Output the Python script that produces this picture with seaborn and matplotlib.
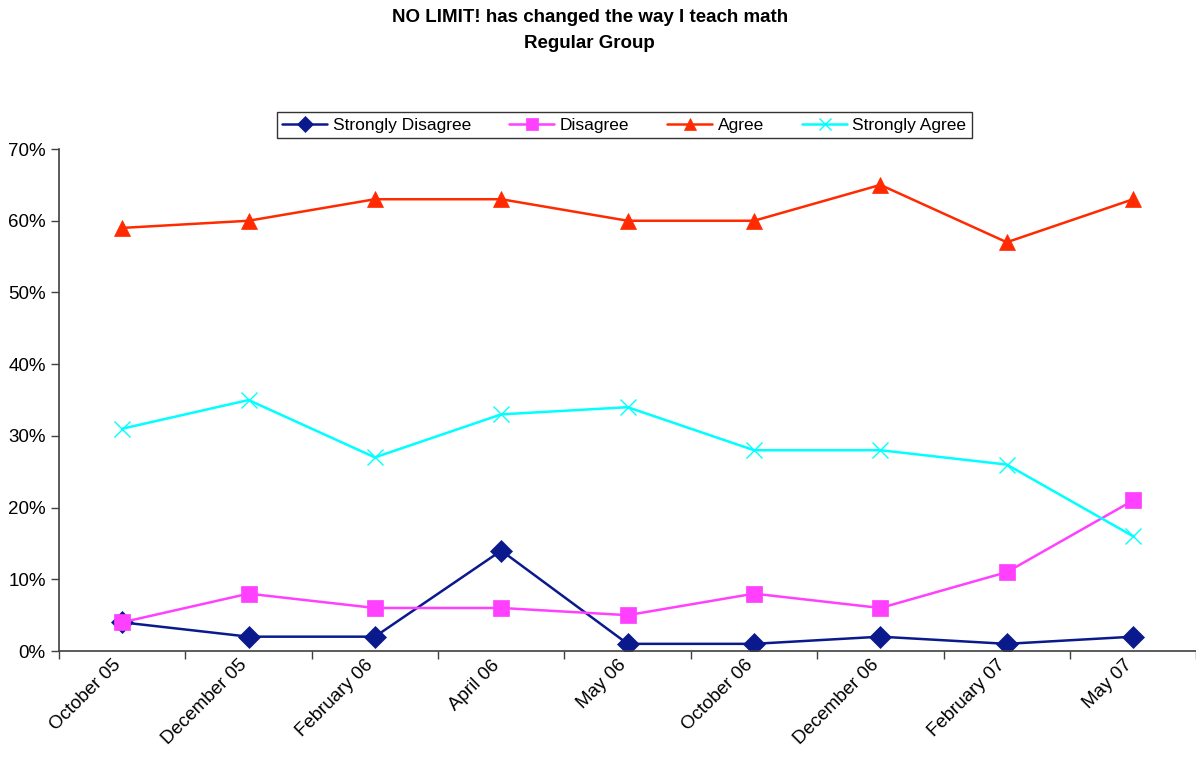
import pandas as pd
import matplotlib
matplotlib.use("Agg")
import matplotlib.pyplot as plt
import seaborn as sns
from matplotlib.ticker import FixedLocator, PercentFormatter

# dados
meses = ["October 05", "December 05", "February 06", "April 06", "May 06",
         "October 06", "December 06", "February 07", "May 07"]
strongly_disagree = [4, 2, 2, 14, 1, 1, 2, 1, 2]
disagree = [4, 8, 6, 6, 5, 8, 6, 11, 21]
agree = [59, 60, 63, 63, 60, 60, 65, 57, 63]
strongly_agree = [31, 35, 27, 33, 34, 28, 28, 26, 16]

series = ["Strongly Disagree", "Disagree", "Agree", "Strongly Agree"]
cores = ["#0A1A8C", "#FF40FF", "#FF2A00", "#00FFFF"]
marcadores = ["D", "s", "^", "x"]
tamanhos = [11, 12, 12, 12]

df = pd.DataFrame({
    "mes": meses * 4,
    "pos": list(range(len(meses))) * 4,
    "valor": strongly_disagree + disagree + agree + strongly_agree,
    "serie": [s for s in series for _ in meses],
})

sns.set_style("white")
plt.rcParams["font.family"] = ["Liberation Sans", "DejaVu Sans"]
plt.rcParams["text.color"] = "black"
plt.rcParams["xtick.color"] = "black"
plt.rcParams["ytick.color"] = "black"

fig = plt.figure(figsize=(11.96, 7.6), dpi=100)
ax = fig.add_axes([0.0493, 0.1434, 0.951, 0.6605])

for s, c, m, ms in zip(series, cores, marcadores, tamanhos):
    d = df[df["serie"] == s]
    sns.lineplot(data=d, x="pos", y="valor", ax=ax, color=c, marker=m,
                 markersize=ms, markeredgecolor=c,
                 markeredgewidth=1.0 if m == "x" else 0.5,
                 linewidth=1.8, label=s)

ax.set_xlim(-0.5, len(meses) - 0.5)
ax.set_ylim(0, 70)
ax.yaxis.set_major_locator(FixedLocator(range(0, 71, 10)))
ax.yaxis.set_major_formatter(PercentFormatter(decimals=0))
ax.xaxis.set_major_locator(FixedLocator([i - 0.5 for i in range(len(meses) + 1)]))
ax.xaxis.set_major_formatter(plt.NullFormatter())
# rótulos levemente à esquerda do ponto, como no original
ax.set_xticks([i - 0.08 for i in range(len(meses))], minor=True)
ax.set_xticklabels(meses, minor=True, rotation=45, ha="right",
                   rotation_mode="anchor", fontsize=13.5)
ax.tick_params(axis="x", which="minor", length=0, pad=4)
ax.tick_params(axis="x", which="major", length=6, width=1, color="#404040",
               direction="out", bottom=True)
ax.tick_params(axis="y", length=6, width=1, color="#404040", direction="out",
               left=True, labelsize=13.5, labelcolor="black")
ax.set_xlabel("")
ax.set_ylabel("")
for lado in ["top", "right"]:
    ax.spines[lado].set_visible(False)
for lado in ["left", "bottom"]:
    ax.spines[lado].set_color("#404040")
    ax.spines[lado].set_linewidth(1.2)

leg = ax.legend(loc="center", bbox_to_anchor=(0.522, 0.8355),
                bbox_transform=fig.transFigure, ncol=4, frameon=True,
                fancybox=False, edgecolor="black", fontsize=12.5,
                handlelength=2.6, handletextpad=0.3, columnspacing=2.2,
                borderpad=0.3, markerscale=0.7)
leg.get_frame().set_linewidth(1.0)

fig.text(0.493, 0.977, "NO LIMIT! has changed the way I teach math",
         ha="center", va="center", fontsize=13.5, fontweight="bold")
fig.text(0.493, 0.943, "Regular Group", ha="center", va="center",
         fontsize=13.5, fontweight="bold")

plt.savefig("out.png", dpi=100)
